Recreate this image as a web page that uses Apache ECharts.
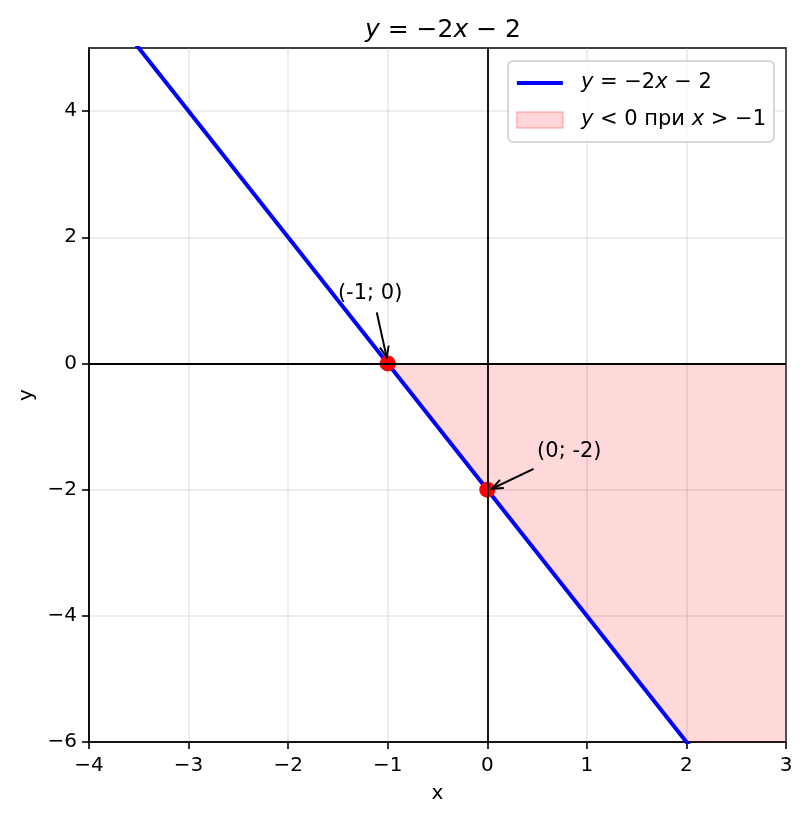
<!DOCTYPE html>
<html>
<head>
<meta charset="utf-8">
<script src="https://cdn.jsdelivr.net/npm/echarts@6/dist/echarts.min.js"></script>
<style>
  html, body { margin: 0; padding: 0; background: #fff; }
  #chart { width: 807px; height: 820px; }
</style>
</head>
<body>
<div id="chart"></div>
<script>
// line y = -2x - 2, endpoints (clipped by the grid)
var lineX = [-4, 3];
var lineY = [6, -8];

// shaded region y < 0 for x > -1 (inside the visible window)
var fillX = [-1, 2, 3, 3];
var fillY = [0, -6, -6, 0];

// marked points and their annotations
var pointX = [-1, 0];
var pointY = [0, -2];
var annLabels = ['(-1; 0)', '(0; -2)'];
var annTextX = [-1.5, 0.5];
var annTextY = [1.0, -1.5];
var arrowFromX = [-1.11, 0.465];
var arrowFromY = [0.81, -1.67];
var arrowToX = [-1.01, 0.046];
var arrowToY = [0.095, -1.986];

var xTicks = [-4, -3, -2, -1, 0, 1, 2, 3];
var yTicks = [-6, -4, -2, 0, 2, 4];

var FONT = 'DejaVu Sans';

function minus(v) {
  return String(v).replace('-', '\u2212');
}

var chart = echarts.init(document.getElementById('chart'));

var option = {
  animation: false,
  backgroundColor: '#fff',
  textStyle: { fontFamily: FONT },
  title: {
    text: '{i|y} = \u22122{i|x} \u2212 2',
    left: 438,
    top: 13,
    textAlign: 'center',
    textStyle: {
      fontFamily: FONT,
      fontSize: 25,
      fontWeight: 'normal',
      color: '#000',
      rich: { i: { fontStyle: 'italic', fontSize: 25, fontFamily: FONT, color: '#000' } }
    }
  },
  legend: {
    orient: 'vertical',
    right: 33,
    top: 61,
    padding: [11, 8, 11, 8],
    itemGap: 15,
    itemWidth: 46,
    itemHeight: 16,
    backgroundColor: 'rgba(255,255,255,0.85)',
    borderColor: '#cccccc',
    borderWidth: 1.5,
    borderRadius: 5,
    formatter: function (name) {
      if (name === 'line') return '{i|y} = \u22122{i|x} \u2212 2';
      return '{i|y} < 0 при {i|x} > \u22121';
    },
    textStyle: {
      fontFamily: FONT,
      fontSize: 21,
      lineHeight: 22,
      color: '#000',
      padding: [0, 0, 0, 13],
      rich: { i: { fontStyle: 'italic', fontSize: 21, lineHeight: 22, fontFamily: FONT, color: '#000' } }
    },
    data: [
      {
        name: 'line',
        icon: 'path://M0,0L46,0L46,4L0,4Z',
        itemStyle: { color: '#0000ff', borderWidth: 0 }
      },
      {
        name: 'fill',
        icon: 'rect',
        itemStyle: { color: 'rgba(255,0,0,0.15)', borderColor: 'rgba(255,0,0,0.25)', borderWidth: 1.5 }
      }
    ]
  },
  grid: {
    left: 89,
    right: 21,
    top: 48,
    bottom: 78,
    show: true,
    borderColor: '#000',
    borderWidth: 1.6,
    backgroundColor: 'transparent'
  },
  xAxis: {
    type: 'value',
    min: -4,
    max: 3,
    interval: 1,
    name: 'x',
    nameLocation: 'middle',
    nameGap: 42,
    nameTextStyle: { fontFamily: FONT, fontSize: 20, color: '#000' },
    axisLine: { onZero: false, lineStyle: { color: '#000', width: 1.6 } },
    axisTick: { show: true, length: 7, lineStyle: { color: '#000', width: 1.6 } },
    axisLabel: {
      margin: 14,
      fontFamily: FONT,
      fontSize: 20,
      color: '#000',
      formatter: minus
    },
    splitLine: { show: true, lineStyle: { color: 'rgba(176,176,176,0.3)', width: 1.6 } }
  },
  yAxis: {
    type: 'value',
    min: -6,
    max: 5,
    interval: 2,
    name: 'y',
    nameLocation: 'middle',
    nameGap: 51,
    nameRotate: 90,
    nameTextStyle: { fontFamily: FONT, fontSize: 20, color: '#000' },
    axisLine: { onZero: false, lineStyle: { color: '#000', width: 1.6 } },
    axisTick: { show: true, length: 7, customValues: yTicks, lineStyle: { color: '#000', width: 1.6 } },
    axisLabel: {
      margin: 12,
      fontFamily: FONT,
      fontSize: 20,
      color: '#000',
      customValues: yTicks,
      formatter: minus
    },
    splitLine: { show: true, lineStyle: { color: 'rgba(176,176,176,0.3)', width: 1.6 } }
  },
  series: [
    {
      name: 'fill',
      type: 'custom',
      z: 1,
      itemStyle: { color: 'rgba(255,0,0,0.15)' },
      data: [0],
      renderItem: function (params, api) {
        var pts = fillX.map(function (x, i) { return api.coord([x, fillY[i]]); });
        return {
          type: 'polygon',
          shape: { points: pts },
          style: { fill: 'rgba(255,0,0,0.15)', stroke: 'none' }
        };
      }
    },
    {
      name: 'zero',
      type: 'line',
      z: 2,
      data: [],
      markLine: {
        silent: true,
        symbol: ['none', 'none'],
        label: { show: false },
        lineStyle: { color: '#000', width: 1.8, type: 'solid' },
        data: [{ xAxis: 0 }, { yAxis: 0 }]
      }
    },
    {
      name: 'line',
      type: 'line',
      z: 3,
      showSymbol: false,
      symbol: 'none',
      clip: true,
      color: '#0000ff',
      lineStyle: { color: '#0000ff', width: 4 },
      data: lineX.map(function (x, i) { return [x, lineY[i]]; })
    },
    {
      name: 'points',
      type: 'scatter',
      z: 4,
      symbolSize: 16,
      itemStyle: { color: '#ff0000', opacity: 1 },
      data: pointX.map(function (x, i) { return [x, pointY[i]]; })
    },
    {
      name: 'notes',
      type: 'custom',
      z: 5,
      clip: false,
      data: annLabels.map(function (t, i) {
        return [annTextX[i], annTextY[i], arrowFromX[i], arrowFromY[i], arrowToX[i], arrowToY[i]];
      }),
      renderItem: function (params, api) {
        var i = params.dataIndex;
        var t = api.coord([api.value(0), api.value(1)]);
        var a = api.coord([api.value(2), api.value(3)]);
        var b = api.coord([api.value(4), api.value(5)]);
        var ang = Math.atan2(b[1] - a[1], b[0] - a[0]);
        var h = 12, w = 0.38;
        var head = [
          [b[0] - h * Math.cos(ang - w), b[1] - h * Math.sin(ang - w)],
          [b[0], b[1]],
          [b[0] - h * Math.cos(ang + w), b[1] - h * Math.sin(ang + w)]
        ];
        return {
          type: 'group',
          children: [
            {
              type: 'text',
              x: t[0],
              y: t[1] - 7,
              style: {
                text: annLabels[i],
                fill: '#000',
                font: '21px "DejaVu Sans"',
                align: 'left',
                verticalAlign: 'middle'
              }
            },
            {
              type: 'line',
              shape: { x1: a[0], y1: a[1], x2: b[0], y2: b[1] },
              style: { stroke: '#000', lineWidth: 2 }
            },
            {
              type: 'polyline',
              shape: { points: head },
              style: { stroke: '#000', fill: null, lineWidth: 2 }
            }
          ]
        };
      }
    }
  ]
};

chart.setOption(option);
</script>
</body>
</html>
